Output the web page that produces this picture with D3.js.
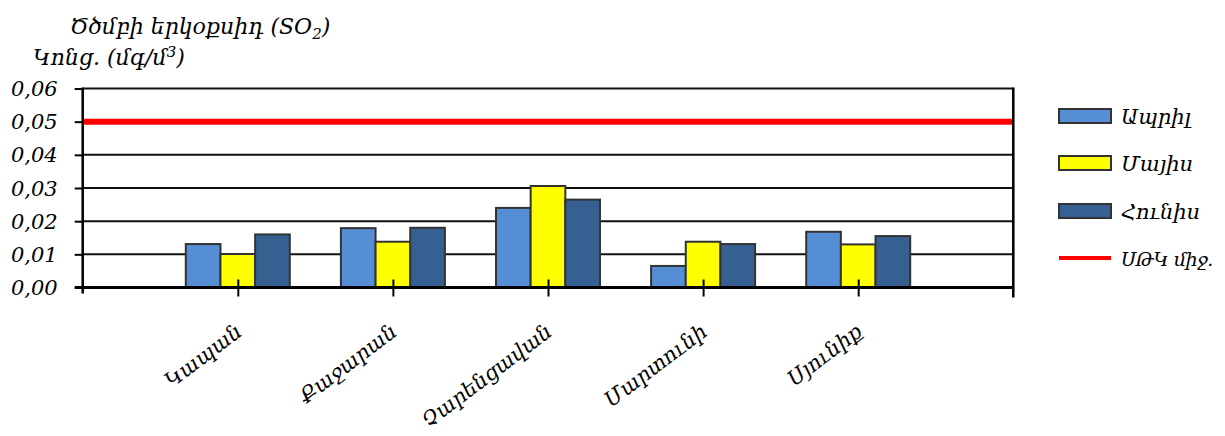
<!DOCTYPE html>
<html>
<head>
<meta charset="utf-8">
<script src="https://cdn.jsdelivr.net/npm/d3@7"></script>
<style>
  html, body { margin: 0; padding: 0; background: #fff; }
  svg text { font-family: "DejaVu Serif", serif; font-style: italic; fill: #000; }
</style>
</head>
<body>
<svg id="chart" width="1225" height="436"></svg>
<script>
// Sulfur dioxide concentration by town, April–June
const categories = ["Կապան", "Քաջարան", "Չարենցավան", "Մարտունի", "Սյունիք"];
const seriesNames = ["Ապրիլ", "Մայիս", "Հունիս"];
const april = [0.0131, 0.0179, 0.0240, 0.0065, 0.0168];
const may   = [0.0101, 0.0138, 0.0306, 0.0138, 0.0130];
const june  = [0.0160, 0.0180, 0.0265, 0.0131, 0.0155];
const limitValue = 0.05;
const limitLabel = "ՍԹԿ միջ.";
const yTicks = [0, 0.01, 0.02, 0.03, 0.04, 0.05, 0.06];
const colors = ["#558ed5", "#ffff00", "#366092"];

const series = [april, may, june];

const svg = d3.select("#chart");
const plotLeft = 82.7, plotRight = 1013.3, plotTop = 88.5, plotBottom = 287.5;

const y = d3.scaleLinear().domain([0, 0.06]).range([plotBottom, plotTop]);
const x = d3.scalePoint().domain(categories).range([plotLeft, plotRight]).padding(1);
const groupWidth = 104;
const x1 = d3.scaleBand().domain(d3.range(series.length)).range([-groupWidth / 2, groupWidth / 2]);

const fmt = v => d3.format(".2f")(v).replace(".", ",");

// horizontal grid lines
svg.append("g")
  .selectAll("line")
  .data(yTicks.filter(t => t > 0))
  .join("line")
  .attr("x1", plotLeft).attr("x2", plotRight)
  .attr("y1", d => y(d)).attr("y2", d => y(d))
  .attr("stroke", "#111").attr("stroke-width", 2);

// bars
const groups = svg.append("g")
  .selectAll("g")
  .data(categories)
  .join("g")
  .attr("transform", d => `translate(${x(d)},0)`);

groups.selectAll("rect")
  .data((d, i) => series.map((s, k) => ({ k, v: s[i] })))
  .join("rect")
  .attr("x", d => x1(d.k))
  .attr("width", x1.bandwidth())
  .attr("y", d => y(d.v))
  .attr("height", d => y(0) - y(d.v))
  .attr("fill", d => colors[d.k])
  .attr("stroke", "#333")
  .attr("stroke-width", 2);

// limit line
svg.append("line")
  .attr("x1", plotLeft).attr("x2", plotRight)
  .attr("y1", y(limitValue)).attr("y2", y(limitValue))
  .attr("stroke", "#ff0000").attr("stroke-width", 6);

// y axis
const yAxis = svg.append("g")
  .attr("transform", `translate(${plotLeft},0)`)
  .call(d3.axisLeft(y).tickValues(yTicks).tickFormat(fmt).tickSize(8).tickSizeOuter(0).tickPadding(17));
yAxis.select(".domain").attr("stroke", "#000").attr("stroke-width", 2.5)
  .attr("d", `M0,${plotTop - 1}V${plotBottom + 6}`);
yAxis.selectAll(".tick line").attr("stroke", "#000").attr("stroke-width", 2);
yAxis.selectAll(".tick text")
  .attr("font-size", 21).attr("font-family", "DejaVu Serif").attr("font-style", "italic")
  .attr("dy", "0.34em");

// right frame
svg.append("line")
  .attr("x1", plotRight).attr("x2", plotRight)
  .attr("y1", plotTop - 1).attr("y2", plotBottom + 10)
  .attr("stroke", "#000").attr("stroke-width", 2.5);

// x axis
const xAxis = svg.append("g")
  .attr("transform", `translate(0,${plotBottom})`)
  .call(d3.axisBottom(x).tickSize(9).tickSizeOuter(0));
xAxis.select(".domain").attr("stroke", "#000").attr("stroke-width", 3)
  .attr("d", `M${plotLeft - 8},0H${plotRight}`);
xAxis.selectAll(".tick line").attr("stroke", "#000").attr("stroke-width", 2).attr("y1", -8);
xAxis.selectAll(".tick text")
  .attr("font-size", 21).attr("font-family", "DejaVu Serif").attr("font-style", "italic")
  .attr("text-anchor", "end")
  .attr("dy", 0)
  .attr("transform", "translate(5,47) rotate(-37)")
  .attr("y", 0);

// titles
const t1 = svg.append("text").attr("x", 70).attr("y", 34).attr("font-size", 22);
t1.append("tspan").text("Ծծմբի երկօքսիդ (SO");
t1.append("tspan").text("2").attr("font-size", 15).attr("dy", 5);
t1.append("tspan").text(")").attr("dy", -5);

const t2 = svg.append("text").attr("x", 33).attr("y", 65).attr("font-size", 22);
t2.append("tspan").text("Կոնց. (մգ/մ");
t2.append("tspan").text("3").attr("font-size", 15).attr("dy", -8);
t2.append("tspan").text(")").attr("dy", 8);

// legend
const legendX = 1059, legendRows = [116, 163, 211, 258];
const legend = svg.append("g");
seriesNames.forEach((name, i) => {
  legend.append("rect")
    .attr("x", legendX).attr("y", legendRows[i] - 7)
    .attr("width", 52).attr("height", 14)
    .attr("fill", colors[i]).attr("stroke", "#333").attr("stroke-width", 2);
  legend.append("text")
    .attr("x", legendX + 62).attr("y", legendRows[i] + 8)
    .attr("font-size", 21).text(name);
});
legend.append("line")
  .attr("x1", legendX).attr("x2", legendX + 52)
  .attr("y1", legendRows[3]).attr("y2", legendRows[3])
  .attr("stroke", "#ff0000").attr("stroke-width", 4);
legend.append("text")
  .attr("x", legendX + 62).attr("y", legendRows[3] + 8)
  .attr("font-size", 19).attr("letter-spacing", -0.5).text(limitLabel);
</script>
</body>
</html>
